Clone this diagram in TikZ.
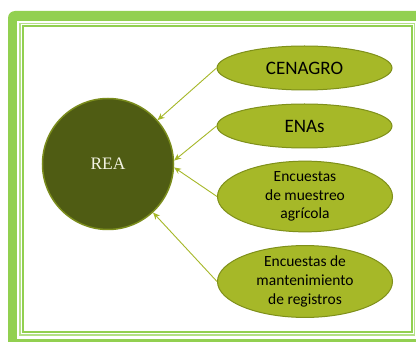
\documentclass[tikz,border=0pt]{standalone}
\usepackage{fontspec}
\setmainfont{Carlito}
\newfontfamily\reafont{Liberation Serif}
\usetikzlibrary{shapes, arrows.meta}
\definecolor{marco}{HTML}{92D050}
\definecolor{marcoclaro}{HTML}{B4E086}
\definecolor{oliva}{HTML}{4F5C13}
\definecolor{olivaborde}{HTML}{7A8C1C}
\definecolor{hoja}{HTML}{A6B828}
\definecolor{hojaborde}{HTML}{7F901A}

\begin{document}
\begin{tikzpicture}[x=1pt, y=-1pt,
    ovalo/.style={draw=hojaborde, fill=hoja, ellipse, line width=1pt, inner sep=0pt,
        minimum width=175pt, align=center, text=black},
    grande/.style={minimum height=44pt, font=\fontsize{19}{23}\selectfont},
    chico/.style={minimum height=70pt, font=\fontsize{15.5}{18.7}\selectfont},
    flecha/.style={draw=hoja, line width=0.9pt, -{Stealth[length=7pt, width=6pt]}}]
\useasboundingbox (0,0) rectangle (416,342);
\clip (0,0) rectangle (416,342);
\fill[marco, rounded corners=7pt] (8,11) rectangle (440,370);
\fill[white] (17,21) rectangle (419,339);
\draw[marcoclaro, line width=1.6pt] (20,23.5) rectangle (414.5,335);
\draw[marco, line width=1.4pt] (23,26) rectangle (412,332);

\node (rea) at (108,164) [circle, draw=olivaborde, fill=oliva, line width=1.5pt,
    minimum size=131pt, inner sep=0pt, text={rgb,255:red,242;green,242;blue,226},
    font=\reafont\fontsize{17.5}{20}\selectfont] {REA};

\node (cenagro) at (304.5,68) [ovalo, grande] {CENAGRO};
\node (enas) at (304.5,126) [ovalo, grande] {ENAs};
\node (muestreo) at (305,196.5) [ovalo, chico] {Encuestas\\de muestreo\\agrícola};
\node (registros) at (305,281.5) [ovalo, chico] {Encuestas de\\mantenimiento\\de registros};

\draw[flecha] (cenagro.west) -- (rea);
\draw[flecha] (enas.west) -- (rea.3);
\draw[flecha] (muestreo.west) -- (rea.-3);
\draw[flecha] (registros.west) -- (rea);
\end{tikzpicture}
\end{document}
